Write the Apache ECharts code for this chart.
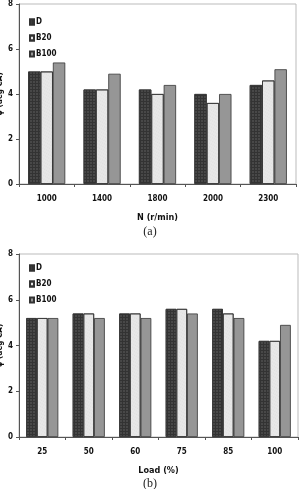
<!DOCTYPE html>
<html>
<head>
<meta charset="utf-8">
<script src="https://cdn.jsdelivr.net/npm/echarts@6/dist/echarts.min.js"></script>
<style>
	html, body { margin: 0; padding: 0; background: #fff; }
	#chart { width: 300px; height: 489px; }
</style>
</head>
<body>
<div id="chart"></div>
<script>
const speedLabels = ['1000', '1400', '1800', '2000', '2300'];
const speedD = [5.0, 4.2, 4.2, 4.0, 4.4];
const speedB20 = [5.0, 4.2, 4.0, 3.6, 4.6];
const speedB100 = [5.4, 4.9, 4.4, 4.0, 5.1];

const loadLabels = ['25', '50', '60', '75', '85', '100'];
const loadD = [5.2, 5.4, 5.4, 5.6, 5.6, 4.2];
const loadB20 = [5.2, 5.4, 5.4, 5.6, 5.4, 4.2];
const loadB100 = [5.2, 5.2, 5.2, 5.4, 5.2, 4.9];

const yTicks = [0, 2, 4, 6, 8];

const FONT = '"Liberation Sans Narrow", "DejaVu Sans Condensed", sans-serif';

const fuels = [
	{ name: 'D', color: '#333333', decal: { symbol: 'rect', symbolSize: 0.7, color: 'rgba(110,110,110,0.7)', dashArrayX: [2, 1], dashArrayY: [2, 1], rotation: 0 } },
	{ name: 'B20', color: '#e8e8e8', decal: { symbol: 'circle', symbolSize: 0.6, color: 'rgba(160,160,160,0.8)', dashArrayX: [1, 1], dashArrayY: [2, 1], rotation: 0.5 } },
	{ name: 'B100', color: '#969696', decal: null }
];

function makeX(gridIndex, labels, title) {
	return {
		type: 'category',
		gridIndex: gridIndex,
		data: labels,
		name: title,
		nameLocation: 'middle',
		nameGap: 29,
		nameTextStyle: { fontFamily: FONT, fontWeight: 'bold', fontSize: 9, color: '#111' },
		axisLine: { lineStyle: { color: '#555', width: 1 } },
		axisTick: { show: true, length: 3, lineStyle: { color: '#555' } },
		axisLabel: { fontFamily: FONT, fontWeight: 'bold', fontSize: 8, color: '#111', margin: 11 }
	};
}

function makeY(gridIndex) {
	return {
		type: 'value',
		gridIndex: gridIndex,
		min: yTicks[0],
		max: yTicks[yTicks.length - 1],
		interval: 2,
		name: 'ψ (deg CA)',
		nameLocation: 'middle',
		nameGap: 15,
		nameMoveOverlap: false,
		nameTextStyle: { fontFamily: FONT, fontWeight: 'bold', fontSize: 8, color: '#111' },
		axisLine: { show: true, lineStyle: { color: '#555', width: 1 } },
		axisTick: { show: true, length: 3, lineStyle: { color: '#555' } },
		splitLine: { show: false },
		axisLabel: { fontFamily: FONT, fontWeight: 'bold', fontSize: 8, color: '#111', margin: 6 }
	};
}

function makeSeries(gridIndex, values, fuel, gap) {
	const style = { color: fuel.color, borderColor: '#333', borderWidth: 0.8 };
	if (fuel.decal) {
		style.decal = fuel.decal;
	}
	return {
		type: 'bar',
		name: fuel.name,
		xAxisIndex: gridIndex,
		yAxisIndex: gridIndex,
		data: values,
		barGap: '0%',
		barCategoryGap: gap,
		itemStyle: style
	};
}

function makeLegend(top) {
	return {
		orient: 'vertical',
		left: 24,
		top: top,
		itemWidth: 4,
		itemHeight: 5,
		itemGap: 8,
		icon: 'rect',
		data: ['D', 'B20', 'B100'],
		textStyle: { fontFamily: FONT, fontWeight: 'bold', fontSize: 8, color: '#111', padding: [0, 0, 0, -3] }
	};
}

const chart = echarts.init(document.getElementById('chart'), null, { renderer: 'canvas' });

chart.setOption({
	animation: false,
	title: [
		{ text: '(a)', left: 'center', top: 221, textStyle: { fontFamily: '"Liberation Serif", serif', fontWeight: 'normal', fontSize: 12, color: '#222' } },
		{ text: '(b)', left: 'center', top: 473, textStyle: { fontFamily: '"Liberation Serif", serif', fontWeight: 'normal', fontSize: 12, color: '#222' } }
	],
	legend: [makeLegend(13), makeLegend(259)],
	grid: [
		{ left: 19, right: 4, top: 4, height: 180, show: true, borderColor: '#bbb', borderWidth: 1, outerBoundsMode: 'none', containLabel: false },
		{ left: 19, right: 2, top: 254, height: 183, show: true, borderColor: '#bbb', borderWidth: 1, outerBoundsMode: 'none', containLabel: false }
	],
	xAxis: [makeX(0, speedLabels, 'N (r/min)'), makeX(1, loadLabels, 'Load (%)')],
	yAxis: [makeY(0), makeY(1)],
	series: [
		makeSeries(0, speedD, fuels[0], '33%'),
		makeSeries(0, speedB20, fuels[1], '33%'),
		makeSeries(0, speedB100, fuels[2], '33%'),
		makeSeries(1, loadD, fuels[0], '31%'),
		makeSeries(1, loadB20, fuels[1], '31%'),
		makeSeries(1, loadB100, fuels[2], '31%')
	]
});
</script>
</body>
</html>
